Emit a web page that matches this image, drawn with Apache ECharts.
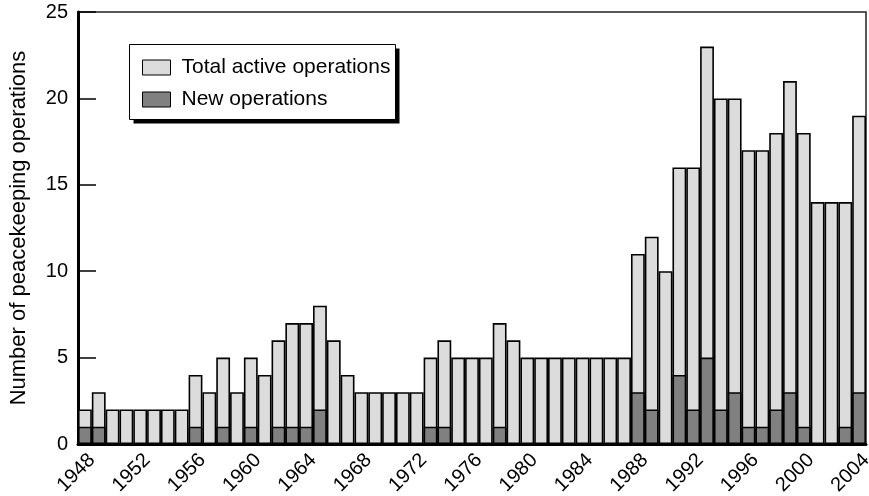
<!doctype html>
<html lang="en">
<head>
<meta charset="UTF-8"/>
<title>Peacekeeping operations</title>
<script src="https://cdn.jsdelivr.net/npm/echarts@6/dist/echarts.min.js"></script>
<style>
	html, body { margin: 0; padding: 0; background: #fff; }
	#main { width: 869px; height: 496px; }
</style>
</head>
<body>
<div id="main"></div>
<script type="text/javascript">
// years 1948 - 2004
var years = [];
for (var y = 1948; y <= 2004; y++) { years.push(String(y)); }

var totalOps = [
	2, 3, 2, 2, 2, 2, 2, 2, 4, 3,      // 1948-1957
	5, 3, 5, 4, 6, 7, 7, 8, 6, 4,      // 1958-1967
	3, 3, 3, 3, 3, 5, 6, 5, 5, 5,      // 1968-1977
	7, 6, 5, 5, 5, 5, 5, 5, 5, 5,      // 1978-1987
	11, 12, 10, 16, 16, 23, 20, 20, 17, 17, // 1988-1997
	18, 21, 18, 14, 14, 14, 19          // 1998-2004
];
var newOps = [
	1, 1, 0, 0, 0, 0, 0, 0, 1, 0,
	1, 0, 1, 0, 1, 1, 1, 2, 0, 0,
	0, 0, 0, 0, 0, 1, 1, 0, 0, 0,
	1, 0, 0, 0, 0, 0, 0, 0, 0, 0,
	3, 2, 0, 4, 2, 5, 2, 3, 1, 1,
	2, 3, 1, 0, 0, 1, 3
];
var yTicks = { min: 0, max: 25, step: 5 };

var font = 'Liberation Sans, Arial, Helvetica, sans-serif';
var myChart = echarts.init(document.getElementById('main'));
var option = {
	animation: false,
	backgroundColor: '#fff',
	textStyle: { fontFamily: font, color: '#000' },
	grid: {
		left: 78, right: 3, top: 12, bottom: 52,
		show: true,
		borderColor: '#222',
		borderWidth: 1.5,
		containLabel: false,
		outerBoundsMode: 'none'
	},
	// legend frame: black offset block as the shadow, white box on top
	graphic: [{
		type: 'rect',
		z: 2,
		shape: { x: 133.5, y: 48.5, width: 266, height: 75 },
		style: { fill: '#000' }
	}, {
		type: 'rect',
		z: 3,
		shape: { x: 129.5, y: 44.5, width: 266, height: 75 },
		style: { fill: '#fff', stroke: '#000', lineWidth: 1 }
	}],
	legend: {
		orient: 'vertical',
		left: 142,
		top: 57,
		padding: 0,
		z: 5,
		itemGap: 11,
		itemWidth: 28,
		itemHeight: 15,
		icon: 'rect',
		itemStyle: { borderColor: '#000', borderWidth: 1 },
		textStyle: { fontFamily: font, fontSize: 21, color: '#000', padding: [0, 0, 0, 6] },
		data: ['Total active operations', 'New operations']
	},
	xAxis: {
		type: 'category',
		data: years,
		axisTick: { show: false },
		axisLine: { lineStyle: { color: '#000', width: 3 } },
		axisLabel: {
			interval: 3,
			rotate: 45,
			margin: 6,
			verticalAlign: 'top',
			fontSize: 20,
			color: '#000',
			fontFamily: font
		}
	},
	yAxis: {
		type: 'value',
		min: yTicks.min,
		max: yTicks.max,
		interval: yTicks.step,
		name: 'Number of peacekeeping operations',
		nameLocation: 'middle',
		nameGap: 48,
		nameTextStyle: { fontFamily: font, fontSize: 22, color: '#000' },
		splitLine: { show: false },
		axisLine: { show: true, lineStyle: { color: '#000', width: 3 } },
		axisTick: { show: true, inside: true, length: 18, lineStyle: { color: '#000', width: 1.5 } },
		axisLabel: { fontSize: 20, color: '#000', margin: 10, fontFamily: font }
	},
	series: [
		{
			name: 'Total active operations',
			type: 'bar',
			data: totalOps,
			barCategoryGap: '0%',
			barGap: '-100%',
			itemStyle: { color: '#dcdcdc', borderColor: '#000', borderWidth: 1.6 }
		},
		{
			name: 'New operations',
			type: 'bar',
			data: newOps,
			barCategoryGap: '0%',
			barGap: '-100%',
			itemStyle: { color: '#808080', borderColor: '#000', borderWidth: 1.6 }
		}
	]
};
myChart.setOption(option);
</script>
</body>
</html>
